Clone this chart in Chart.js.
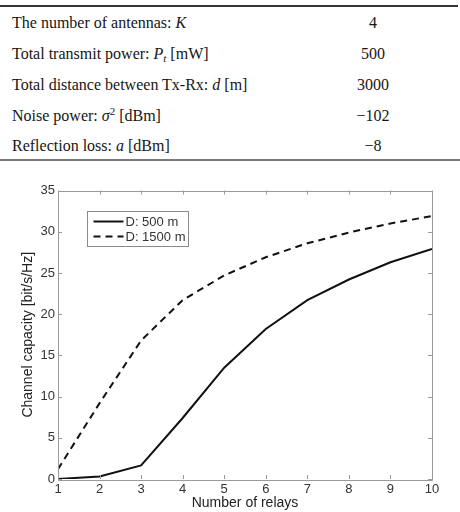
<!DOCTYPE html>
<html>
<head>
<meta charset="utf-8">
<script src="https://cdn.jsdelivr.net/npm/chart.js@4.4.1/dist/chart.umd.min.js"></script>
<style>
  html, body { margin: 0; padding: 0; background: #fff; }
  body { width: 460px; height: 512px; position: relative; overflow: hidden; }
  .row { position: absolute; left: 0; width: 460px; height: 20px; line-height: 20px;
         font-family: "Liberation Serif", "Times New Roman", serif; font-size: 16px; color: #161616; }
  .row .lbl { position: absolute; left: 12px; top: 0; white-space: nowrap; }
  .row .val { position: absolute; left: 313px; width: 120px; text-align: center; top: 0; }
  .row sub, .row sup { font-size: 11px; line-height: 0; position: relative; vertical-align: baseline; }
  .row sub { top: 3px; }
  .row sup { top: -6px; }
  .hline { position: absolute; left: 0; }
  #chartWrap { position: absolute; left: 0; top: 165px; width: 460px; height: 347px; }
</style>
</head>
<body>
<div class="hline" style="top:5px;width:458px;height:2px;background:#333;"></div>
<div class="hline" style="top:159px;width:460px;height:2px;background:#7a7a7a;"></div>
<div id="table"></div>
<div id="chartWrap"><canvas id="c" width="460" height="347"></canvas></div>
<script>
// ---- table content ----
const tableLabels = [
  'The number of antennas: <i>K</i>',
  'Total transmit power: <i>P<sub>t</sub></i> [mW]',
  'Total distance between Tx-Rx: <i>d</i> [m]',
  'Noise power: <i>\u03C3</i><sup>2</sup> [dBm]',
  'Reflection loss: <i>a</i> [dBm]'
];
const tableValues = ['4', '500', '3000', '\u2212102', '\u22128'];

// ---- chart data ----
const relays = [1, 2, 3, 4, 5, 6, 7, 8, 9, 10];
const capacity500 = [0.0, 0.3, 1.65, 7.4, 13.5, 18.2, 21.7, 24.2, 26.3, 27.9];
const capacity1500 = [1.2, 9.2, 16.8, 21.7, 24.7, 26.9, 28.6, 29.9, 31.0, 31.9];
const seriesLabels = ['D: 500 m', 'D: 1500 m'];
const xTitle = 'Number of relays';
const yTitle = 'Channel capacity [bit/s/Hz]';

// build table
const rowCenters = [23, 54, 85, 116, 146];
const tbl = document.getElementById('table');
tableLabels.forEach((l, i) => {
  const r = document.createElement('div');
  r.className = 'row';
  r.style.top = (rowCenters[i] - 10) + 'px';
  r.innerHTML = '<span class="lbl">' + l + '</span><span class="val">' + tableValues[i] + '</span>';
  tbl.appendChild(r);
});

const axisColor = '#9a9a9a';
const textColor = '#333';
const fontFam = '"Liberation Sans", Arial, sans-serif';

const boxTicks = {
  id: 'boxTicks',
  afterDatasetsDraw(chart) {
    const {ctx, chartArea: a, scales: {x, y}} = chart;
    ctx.save();
    ctx.strokeStyle = axisColor;
    ctx.lineWidth = 1;
    ctx.beginPath();
    ctx.rect(Math.round(a.left) + 0.5, Math.round(a.top) + 0.5,
             Math.round(a.right - a.left), Math.round(a.bottom - a.top));
    ctx.stroke();
    const tl = 4;
    ctx.beginPath();
    x.ticks.forEach(t => {
      const px = Math.round(x.getPixelForValue(t.value)) + 0.5;
      ctx.moveTo(px, a.bottom); ctx.lineTo(px, a.bottom - tl);
      ctx.moveTo(px, a.top); ctx.lineTo(px, a.top + tl);
    });
    y.ticks.forEach(t => {
      const py = Math.round(y.getPixelForValue(t.value)) + 0.5;
      ctx.moveTo(a.left, py); ctx.lineTo(a.left + tl, py);
      ctx.moveTo(a.right, py); ctx.lineTo(a.right - tl, py);
    });
    ctx.stroke();

    // legend box
    const lx = Math.round(a.left + 28.7) + 0.5, ly = Math.round(a.top + 20.5) + 0.5;
    const lw = 101, lh = 35;
    ctx.fillStyle = '#fff';
    ctx.fillRect(lx, ly, lw, lh);
    ctx.strokeStyle = '#8a8a8a';
    ctx.strokeRect(lx, ly, lw, lh);
    chart.data.datasets.forEach((ds, i) => {
      const yy = ly + 10 + i * 15;
      ctx.strokeStyle = ds.borderColor;
      ctx.lineWidth = ds.borderWidth;
      ctx.setLineDash(ds.borderDash || []);
      ctx.beginPath();
      ctx.moveTo(lx + 6, yy); ctx.lineTo(lx + 36, yy);
      ctx.stroke();
      ctx.setLineDash([]);
      ctx.fillStyle = textColor;
      ctx.font = '13px ' + fontFam;
      ctx.textBaseline = 'middle';
      ctx.textAlign = 'left';
      ctx.fillText(ds.label, lx + 38, yy + 0.5);
    });
    ctx.restore();
  }
};

new Chart(document.getElementById('c'), {
  type: 'line',
  data: {
    datasets: [
      {
        label: seriesLabels[0],
        data: relays.map((r, i) => ({x: r, y: capacity500[i]})),
        borderColor: '#111', borderWidth: 2, pointRadius: 0, tension: 0, fill: false
      },
      {
        label: seriesLabels[1],
        data: relays.map((r, i) => ({x: r, y: capacity1500[i]})),
        borderColor: '#111', borderWidth: 2, borderDash: [7, 5], pointRadius: 0, tension: 0, fill: false
      }
    ]
  },
  options: {
    responsive: false,
    animation: false,
    events: [],
    layout: { padding: { top: 25.5, right: 28, left: 0, bottom: 0 } },
    plugins: { legend: { display: false }, tooltip: { enabled: false } },
    scales: {
      x: {
        type: 'linear', min: 1, max: 10,
        grid: { display: false, drawTicks: false },
        border: { display: false },
        ticks: { stepSize: 1, padding: 3, color: textColor, font: { family: fontFam, size: 13 }, maxRotation: 0 },
        title: { display: true, text: xTitle, color: '#222', font: { family: fontFam, size: 14 }, padding: { top: 0, bottom: 0 } },
        afterFit(s) { s.height = 33; }
      },
      y: {
        type: 'linear', min: 0, max: 35,
        grid: { display: false, drawTicks: false },
        border: { display: false },
        ticks: { stepSize: 5, padding: 3, color: textColor, font: { family: fontFam, size: 13 } },
        title: { display: true, text: yTitle, color: '#222', font: { family: fontFam, size: 14 }, padding: { top: 19.6, bottom: 0 } },
        afterFit(s) { s.width = 58; }
      }
    }
  },
  plugins: [boxTicks]
});
</script>
</body>
</html>
